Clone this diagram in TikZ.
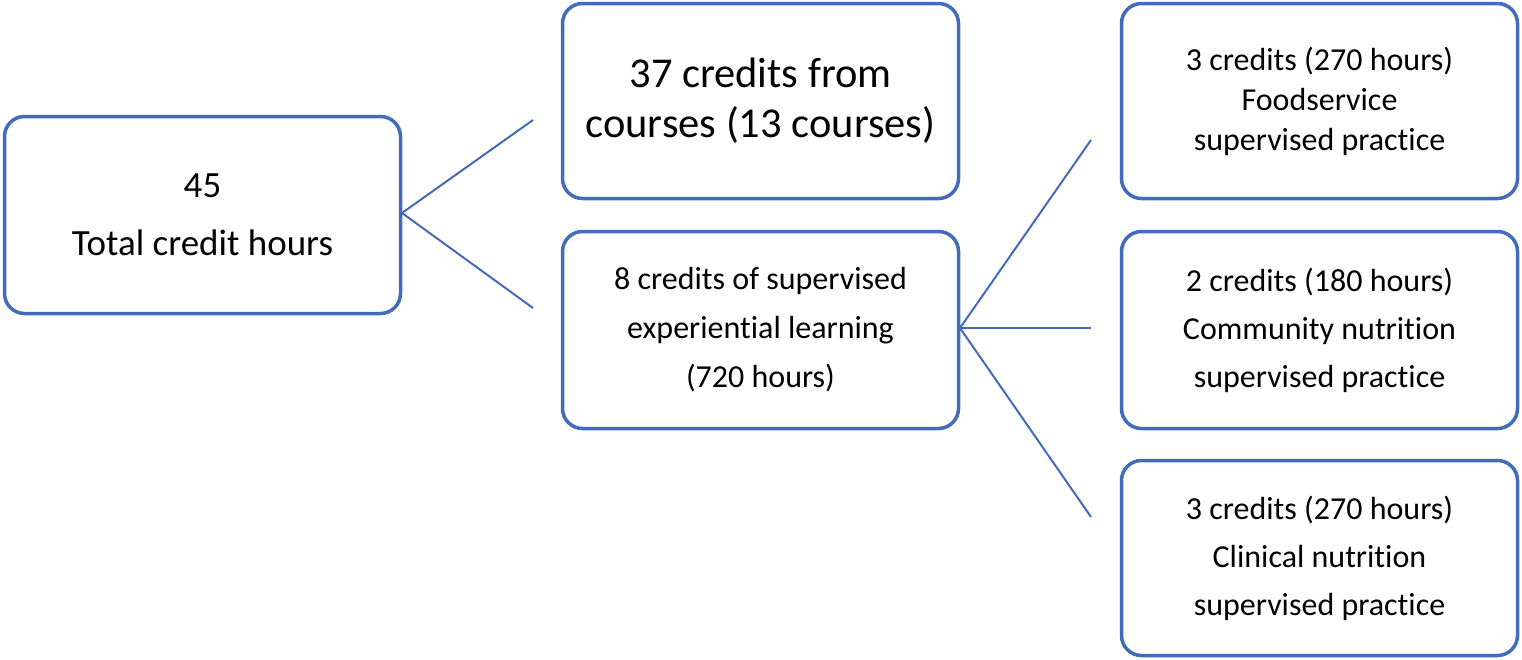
\documentclass[tikz,border=0pt]{standalone}
\usepackage{fontspec}
\setmainfont[Ligatures=NoCommon]{Carlito}
\definecolor{boxblue}{RGB}{66,108,186}
\begin{document}
\begin{tikzpicture}[x=1pt,y=-1pt,
  box/.style={draw=boxblue, line width=3.5pt, rounded corners=20pt, minimum width=396pt, align=center, inner sep=0pt, fill=white},
  link/.style={draw=boxblue, line width=2pt}]
\useasboundingbox (0,0) rectangle (1522,659);
\node[box, minimum height=197pt, font=\fontsize{37}{58}\selectfont] (A) at (202.5,215) {45\\Total credit hours};
\node[box, minimum height=195pt, font=\fontsize{42.5}{50}\selectfont] (B) at (760.5,101) {37 credits from\\courses (13 courses)};
\node[box, minimum height=197pt, font=\fontsize{32}{49}\selectfont] (C) at (760.5,330) {8 credits of supervised\\experiential learning\\(720 hours)};
\node[box, minimum height=195pt, font=\fontsize{32}{40}\selectfont] (D) at (1319.5,101) {3 credits (270 hours)\\Foodservice\\supervised practice};
\node[box, minimum height=197pt, font=\fontsize{32}{48}\selectfont] (E) at (1319.5,330) {2 credits (180 hours)\\Community nutrition\\supervised practice};
\node[box, minimum height=195pt, font=\fontsize{32}{48}\selectfont] (F) at (1319.5,558) {3 credits (270 hours)\\Clinical nutrition\\supervised practice};
\coordinate (a1) at (533,120);
\coordinate (a2) at (533,308);
\coordinate (c1) at (1091,140);
\coordinate (c2) at (1091,328);
\coordinate (c3) at (1091,517);
\coordinate (As) at (402,213);
\coordinate (Cs) at (960,328);
\draw[link] (a1) -- (As) -- (a2);
\draw[link] (c1) -- (Cs) -- (c3);
\draw[link] (Cs) -- (c2);
\end{tikzpicture}
\end{document}
